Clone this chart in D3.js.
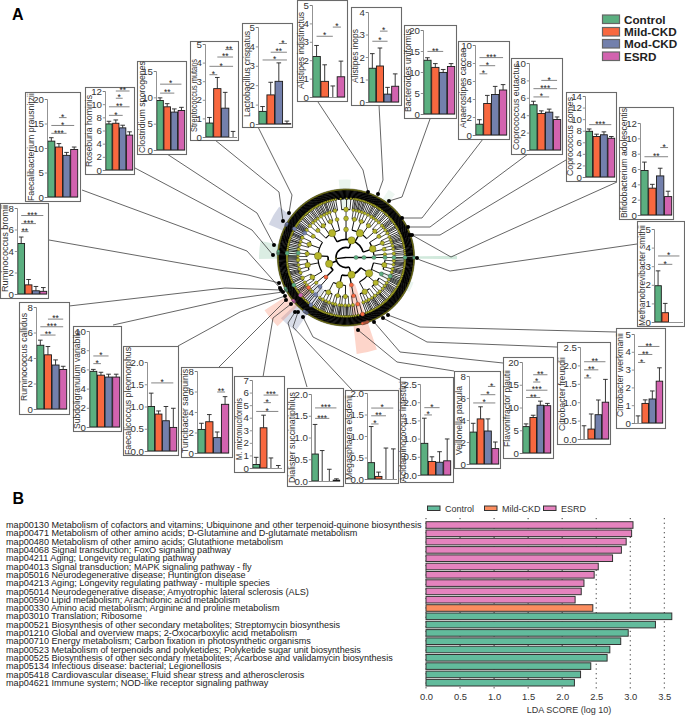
<!DOCTYPE html>
<html><head><meta charset="utf-8">
<script src="https://cdn.jsdelivr.net/npm/d3@7"></script>
<style>html,body{margin:0;padding:0;background:#fff}svg{display:block}text{font-family:"Liberation Sans",Arial,sans-serif}</style>
</head><body><div id="chart"></div>
<script>
/* ---------- DATA: panel A bar charts ---------- */
const groups = ["Control","Mild-CKD","Mod-CKD","ESRD"];
const taxa = ["Faecalibacterium prausnitzii","Roseburia hominis","Clostridium sporogenes","Streptococcus mutans","Lactobacillus crispatus","Alistipes indistinctus","Alistipes inops","Bacteroides uniformis","Anaerostipes caccae","Coprococcus eutactus","Coprococcus comes","Bifidobacterium adolescentis","Methanobrevibacter smithii","Citrobacter werkmanii","Citrobacter freundii","Flavonifractor plautii","Veillonella parvula","Acidaminococcus intestini","Megasphaera elsdenii","Dialister succinatiphilus","M. micronuciformis","Turicibacter sanguinis","Faecalicoccus pleomorphus","Subdoligranulum variabile","Ruminococcus callidus","Ruminococcus bromii"];
const means = [[11.4,10.2,8.5,9.7],[7,7.1,6.4,5.3],[9.4,8.2,7.2,7.5],[.75,2.6,1.55,0],[.65,1.5,2.2,.02],[2.2,.85,0,1.1],[1.5,1.6,.35,.7],[12.8,11.1,9.9,11.3],[1.2,3.5,4.5,5],[5.2,4.2,4.35,3.5],[7.9,7,7.3,6.7],[5.8,3.5,5.1,2.4],[1.95,.5,0,0],[0,1.1,1.35,2.35],[0,.27,.66,1],[5.8,7.8,10.5,10.4],[2.9,4.1,3,1.4],[.87,.37,.35,.39],[.38,.06,0,0],[.62,0,0,.02],[.28,3.2,0,0],[2.3,3.05,1.5,4.75],[1,.83,.68,.53],[5.8,5.4,5.2,5.2],[5,4.25,3.45,3.1],[4.7,.85,.3,.25]];
const upperErrors = [[12.1,10.9,9.1,10.2],[7.4,7.6,6.8,5.8],[9.9,8.8,7.8,8.1],[1.05,3.2,2.4,.3],[.9,2.15,3.15,.15],[2.8,1.75,.6,1.95],[2.15,2.4,.65,1.25],[13.4,12,10.6,12],[1.7,4.4,5.4,5.6],[5.6,4.5,4.7,3.8],[8.3,7.4,7.8,7],[6.9,4,6.1,3.1],[2.75,1,0,0],[.4,1.3,1.8,3.1],[.36,.68,1.06,1.62],[6.4,8.3,11.4,10.9],[3.7,5.2,4.1,2],[1.56,.5,.64,.99],[1.22,.16,.72,.7],[1.3,.7,.27,.05],[.85,4.2,.8,.2],[2.9,3.75,2.05,5.5],[1.3,.9,1,.96],[6,5.7,5.5,5.5],[5.4,4.9,3.85,3.35],[5.3,1.35,.7,.6]];
const tickValues = [[0,5,10,15,20],[0,2,4,6,8,10,12],[0,5,10,15],[0,1,2,3,4,5],[0,1,2,3,4,5],[0,1,2,3,4,5],[0,1,2,3,4],[0,5,10,15,20],[0,2,4,6,8,10],[0,2,4,6,8,10],[0,2,4,6,8,10,12,14],[0,2,4,6,8,10,12],[0,1,2,3,4,5],[0,1,2,3,4,5],[0,.5,1,1.5,2,2.5],[0,5,10,15,20],[0,2,4,6,8],[0,.5,1,1.5,2,2.5],[0,.5,1,1.5,2],[0,.5,1,1.5,2],[0,1,2,3,4,5,6,7],[0,2,4,6,8],[0,.5,1,1.5,2],[0,2,4,6,8,10],[0,2,4,6,8],[0,2,4,6,8]];
/* significance brackets: [from group, to group, value height, stars] */
const brackets = [
 [[0,2,13,"***"],[0,3,14.6,"*"],[1,2,16.2,"*"]],
 [[1,3,12,"**"],[1,2,10.9,"*"],[0,3,9.6,"**"],[0,2,8.3,"*"]],
 [[0,3,12.5,"*"],[0,2,10.8,"**"]],
 [[0,1,3.35,"*"],[0,3,3.8,"*"],[1,3,4.3,"**"],[2,3,4.7,"**"]],
 [[0,3,3.3,"*"],[1,3,3.7,"**"],[2,3,4.15,"*"]],
 [[0,2,3.3,"*"],[2,3,3.8,"*"]],
 [[0,2,2.7,"*"],[1,2,3.15,"*"]],
 [[0,2,14.9,"**"]],
 [[0,1,6.8,"*"],[0,2,7.7,"*"],[0,3,8.6,"***"]],
 [[0,2,6.1,"*"],[0,3,7.05,"***"],[1,3,8,"*"]],
 [[0,3,9.05,"***"]],
 [[0,3,7.6,"**"],[2,3,8.8,"*"]],
 [[0,2,3.1,"*"],[0,3,3.55,"*"]],
 [[0,1,3.4,"*"],[0,2,3.85,"**"],[0,3,4.3,"**"]],
 [[0,1,1.66,"*"],[0,2,1.88,"**"],[0,3,2.1,"**"]],
 [[0,2,12.2,"**"],[0,3,13.8,"***"],[1,2,15.6,"*"],[1,3,17.2,"**"]],
 [[0,3,5.55,"*"],[1,3,6.3,"*"],[2,3,7.05,"*"]],
 [[0,1,1.65,"*"],[0,2,1.85,"*"]],
 [[0,1,1.28,"*"],[0,2,1.47,"**"],[0,3,1.65,"*"]],
 [[0,2,1.44,"***"],[0,3,1.68,"***"]],
 [[0,3,4.5,"*"],[1,2,5.2,"*"],[1,3,5.8,"***"]],
 [[2,3,5.95,"**"]],
 [[0,3,1.53,"*"]],
 [[0,1,6.6,"*"],[0,2,7.4,"*"]],
 [[0,2,5.8,"**"],[0,3,6.45,"***"],[1,3,7.05,"**"]],
 [[0,1,5.8,"**"],[0,2,6.55,"***"],[0,3,7.3,"***"]]
];

/* ---------- DATA: panel A cladogram (kingdom > phylum > class > order > family > genus; a number = species count) ---------- */
const clade = (group, children, wedge) => ({group, children, wedge});
const archaea = clade("Control",[clade("Control",[clade("Control",[clade("Control",[clade("Control",[clade("Control",2)])])])])],"archaea");
const phylumA = [
 [ [[2,3,1,2],[1,2,2],[3,1,2,1],[2,3]], clade("Control",[clade("Control",[2,2,2,1]),[2,1,2]],"side"), [[3,2,1],[2,1,2,1],[3,2],[2,3,1,1],[1,2]], [[2,2,3,1],[1,2,1],[3,2,2],[1,3],[2,3]] ],
 clade("Mild-CKD",[clade("Mild-CKD",[clade("Mild-CKD",[clade("Mild-CKD",7),4]),[3,3]])],"veillon"),
 [ [[2,3,1],[2,2,2],[3,1]], [[1,2,2],[3,2,1],[2,2]], [[3,2,2],[1,2,1],[2,3,2],[2,2]] ]
];
const phylumB = [
 clade("Mild-CKD",[clade("Mod-CKD",[clade("Mod-CKD",[clade("Mod-CKD",5),3,2]),[3,3]],"lowblue"),[[2,1],clade("Mild-CKD",[clade("ESRD",3),2],"lowred")]]),
 [ [[2,1,2],[3,2],[clade("Control",4),2,1,3]], [[2,3,1,2],[1,2,3],[2,2,1],[3,2,2,1,2]], [[1,2],clade("Control",[clade("Control",4),2],"left"),[2,3,2]], [[2,3,1],[1,3,2],[2,1,2,3]], [clade("Mod-CKD",[clade("Mod-CKD",3),2,1],"upblue"),[2,1,2,2]] ]
];
const phylumC = [
 [ [[3,2,1,2],[2,3,1]], [[2,3],[1,2,2],[3,1,2]], [[2,2,1],[3,2],[1,2,3]], [[2,3,2,4]] ],
 clade(null,[ [[9,6,5]] ],"top"),
 [ [[2,2,1],[3,1],[2,2,2]], [[1,3],[2,3],[2,2,1]], clade(null,[[3,2,2],[1,2],[3,3]],"upright"), [[2,1,3],[3,2,1],[2,1]] ],
 [ [[2,3,2],[1,2,3]], [[3,2],[2,2,2],[1,2]], [[2,3,1],[2,1,3]], [[3,2,3]] ]
];
const bacteria = [phylumA, phylumB, phylumC];
const taxonomy = [archaea, bacteria];

/* ---------- DATA: panel B ---------- */
const pathways = ["map00130 Metabolism of cofactors and vitamins; Ubiquinone and other terpenoid-quinone biosynthesis","map00471 Metabolism of other amino acids; D-Glutamine and D-glutamate metabolism","map00480 Metabolism of other amino acids; Glutathione metabolism","map04068 Signal transduction; FoxO signaling pathway","map04211 Aging; Longevity regulating pathway","map04013 Signal transduction; MAPK signaling pathway - fly","map05016 Neurodegenerative disease; Huntington disease","map04213 Aging; Longevity regulating pathway - multiple species","map05014 Neurodegenerative disease; Amyotrophic lateral sclerosis (ALS)","map00590 Lipid metabolism; Arachidonic acid metabolism","map00330 Amino acid metabolism; Arginine and proline metabolism","map03010 Translation; Ribosome","map00521 Biosynthesis of other secondary metabolites; Streptomycin biosynthesis","map01210 Global and overview maps; 2-Oxocarboxylic acid metabolism","map00710 Energy metabolism; Carbon fixation in photosynthetic organisms","map00523 Metabolism of terpenoids and polyketides; Polyketide sugar unit biosynthesis","map00525 Biosynthesis of other secondary metabolites; Acarbose and validamycin biosynthesis","map05134 Infectious disease: bacterial; Legionellosis","map05418 Cardiovascular disease; Fluid shear stress and atherosclerosis","map04621 Immune system; NOD-like receptor signaling pathway"];
const ldaScores = [3.04,3.02,2.94,2.87,2.74,2.53,2.47,2.32,2.28,2.19,2.45,3.61,3.37,2.97,2.86,2.7,2.66,2.42,2.27,2.18];
const ldaGroups = ["ESRD","ESRD","ESRD","ESRD","ESRD","ESRD","ESRD","ESRD","ESRD","ESRD","Mild-CKD","Control","Control","Control","Control","Control","Control","Control","Control","Control"];
const ldaLegend = ["Control","Mild-CKD","ESRD"];
const ldaTicks = [0,.5,1,1.5,2,2.5,3,3.5];

/* ---------- LAYOUT & STYLE ---------- */
const W=685,H=716;
const colA={"Control":"#5BAF80","Mild-CKD":"#F8683F","Mod-CKD":"#7380AC","ESRD":"#D263AF"};
const colB={"Control":"#62BB9C","Mild-CKD":"#FB8D5F","ESRD":"#E583BE"};
/* box x0,x1,y0,y1 | axis x, bars end x, y(top tick), y(0) | name x, bottom, top */
const panelLayout=[
 [25,80,92,201, 47,78,99,197, 31,201,93],
 [85,134,87,174, 105,133,91,170, 89,167,95],
 [137,186,61,154, 156,185,71,150, 142,153,61],
 [190,238,41,140, 205,237,44,137, 194,132,59],
 [242,292,23,127, 258,291,27,124, 247,117,31],
 [297,347,0,101, 312,345,5,97, 301,89,12],
 [351,401,7,105, 368,399,12,102, 355,83,29],
 [404,456,25,118, 423,455,30,114, 408,112,29],
 [458,509,41,139, 475,507,45,135, 463,128,48],
 [511,562,58,154, 529,561,63,150, 516,150,63],
 [566,616,92,181, 585,615,96,177, 570,176,97],
 [619,673,107,219, 640,672,123,215, 624,218,108],
 [637,684,221,326, 654,683,229,322, 642,326,225],
 [616,665,328,428, 634,663,334,423, 620,417,333],
 [557,610,342,444, 580,609,347,439, 562,431,357],
 [503,553,357,458, 522,551,362,453, 507,447,370],
 [454,500,371,468, 469,499,376,464, 459,455,386],
 [400,453,377,482, 420,451,384,475, 403,482,381],
 [345,398,390,483, 367,397,393,479, 349,480,395],
 [287,343,388,486, 311,340,394,481, 292,483,392],
 [234,284,376,472, 252,282,380,468, 239,460,398],
 [181,232,367,457, 197,229,371,453, 185,453,369],
 [123,178,346,455, 147,177,362,451, 128,455,347],
 [73,121,326,431, 89,120,331,427, 77,429,330],
 [19,69,302,414, 36,67,307,409, 24,401,313],
 [0,48,203,298, 17,47,208,294, 4.5,292,205]
];
/* connector polylines, box -> ring */
const connectorLayout=[
 [[82,190],[247,251],[280,288]],
 [[135,168],[252,230],[273,255]],
 [[167,154],[257,213],[274,245]],
 [[215,140],[279,192],[283,221]],
 [[258,127],[292,195],[289,213]],
 [[318,102],[363,170],[368,192]],
 [[379,105],[383,180],[378,194]],
 [[430,119],[402,197],[389,201]],
 [[483,139],[422,218],[402,218]],
 [[528,154],[430,227],[408,227]],
 [[566,160],[440,235],[410,235]],
 [[617,182],[488,240],[451,257],[412,235]],
 [[637,244],[450,271],[420,260],[417,258]],
 [[616,332],[420,327],[388,315]],
 [[557,347],[427,342],[383,318]],
 [[503,363],[400,352],[374,322]],
 [[454,371],[397,362],[358,330]],
 [[400,380],[313,337],[303,317]],
 [[352,390],[293,327],[298,312]],
 [[307,387],[288,323],[295,312]],
 [[263,377],[273,318],[291,304]],
 [[219,367],[270,316],[286,300]],
 [[178,346],[240,312],[285,296]],
 [[113,325],[225,300],[283,292]],
 [[69,306],[225,288],[281,290]],
 [[49,240],[248,275],[279,283]]
];
const clCx=346,clCy=257.5;
const depthRadii=[0,10,18,28,39,48,59,68];
const wedgeStyle={
 archaea:{inner:10,outer:111,fill:"#5BAF80",op:.28,pad:.01},
 side:{inner:39,outer:72,fill:"#5BAF80",op:.12,pad:0},
 veillon:{inner:28,outer:97,fill:"#F8683F",op:.28,pad:0},
 lowblue:{inner:39,outer:89,fill:"#7380AC",op:.28,pad:.01},
 lowred:{inner:48,outer:97,fill:"#F8683F",op:.25,pad:.08},
 left:{inner:48,outer:87,fill:"#5BAF80",op:.22,pad:.07},
 upblue:{inner:48,outer:84,fill:"#7380AC",op:.32,pad:.09},
 top:{inner:48,outer:78,fill:"#5BAF80",op:.14,pad:-.05},
 upright:{inner:48,outer:80,fill:"#5BAF80",op:.1,pad:-.05}
};

const svg=d3.select("#chart").append("svg").attr("width",W).attr("height",H).attr("viewBox",`0 0 ${W} ${H}`);

/* ---------- cladogram ---------- */
const kids=d=>{
 if(typeof d==="number"){return d3.range(d).map(()=>({leaf:true}));}
 if(Array.isArray(d))return d;
 if(d.children!==undefined)return kids(d.children);
 return null;
};
const root=d3.hierarchy({children:taxonomy},d=>{ if(d.leaf)return null; return kids(d);});
const leafCount=root.leaves().length;
d3.cluster().size([2*Math.PI*(1-1/leafCount),1]).separation(()=>1)(root);
const rootRot=Math.PI/2-(root.children[0].leaves()[0].x+root.children[0].leaves().slice(-1)[0].x)/2;
root.each(n=>{n.a=n.x+rootRot;n.r=depthRadii[n.depth];});
root.each(n=>{n.group=n.data.group|| (n.data.leaf&&n.parent.data.group) || null;});
const polar=(a,r)=>[r*Math.sin(a),-r*Math.cos(a)];
const cl=svg.append("g").attr("transform",`translate(${clCx},${clCy})`);
/* clade shading */
const wedgeArc=d3.arc();
root.descendants().filter(n=>n.data.wedge).forEach(n=>{
 const s=wedgeStyle[n.data.wedge],lv=n.leaves();
 cl.append("path").attr("d",wedgeArc({innerRadius:s.inner,outerRadius:s.outer,startAngle:lv[0].a-s.pad,endAngle:lv[lv.length-1].a+s.pad})).attr("fill",s.fill).attr("opacity",s.op);
});
const linkW=d3.scaleOrdinal().domain([1,2,3,4,5,6,7]).range([1.3,1.5,1.3,.9,.7,.8,1.2]);
cl.append("g").selectAll("line").data(root.descendants().filter(n=>n.depth>0)).join("line")
 .attr("x1",n=>polar(n.a,n.parent.r)[0]).attr("y1",n=>polar(n.a,n.parent.r)[1])
 .attr("x2",n=>polar(n.a,n.r)[0]).attr("y2",n=>polar(n.a,n.r)[1])
 .attr("stroke","#000").attr("stroke-width",n=>linkW(n.depth));
cl.append("g").selectAll("path").data(root.descendants().filter(n=>n.children&&n.depth>0&&n.children.length>1)).join("path")
 .attr("d",n=>{const a0=n.children[0].a,a1=n.children[n.children.length-1].a;const p0=polar(a0,n.r),p1=polar(a1,n.r);
   return `M${p0[0]},${p0[1]}A${n.r},${n.r} 0 ${a1-a0>Math.PI?1:0} 1 ${p1[0]},${p1[1]}`;})
 .attr("fill","none").attr("stroke","#000").attr("stroke-width",n=>n.depth===6?2:n.depth===5?1:n.depth<=2?1.7:1.2);
const nodeR=d3.scaleSqrt().domain([1,60]).range([1.1,3.7]);
const nodes=root.descendants().filter(n=>n.depth>0).sort((a,b)=>(a.group?1:0)-(b.group?1:0));
cl.append("g").selectAll("circle").data(nodes).join("circle")
 .attr("cx",n=>polar(n.a,n.r)[0]).attr("cy",n=>polar(n.a,n.r)[1])
 .attr("r",n=>n.group?(n.depth===7?1.4:2.1):(n.depth===7?.7:n.depth===6?1.1:n.depth===1?.8:Math.min(3.7,nodeR(n.leaves().length))))
 .attr("fill",n=>n.group?colA[n.group]:"#B4B52A")
 .attr("stroke",n=>n.group?"#333":"#1c1c04").attr("stroke-width",n=>n.depth===7?.4:.3);

const lineGen=d3.line();
svg.append("g").selectAll("path").data(connectorLayout).join("path")
 .attr("d",lineGen).attr("fill","none").attr("stroke","#333").attr("stroke-width",.75);
svg.append("g").selectAll("circle").data(connectorLayout).join("circle")
 .attr("cx",c=>c[c.length-1][0]).attr("cy",c=>c[c.length-1][1]).attr("r",2).attr("fill","#000");

/* ---------- bar panels ---------- */
taxa.forEach((name,i)=>{
 const [bx0,bx1,by0,by1,ax,barEnd,yTop,y0,nx,nb,nt]=panelLayout[i];
 const g=svg.append("g");
 g.append("rect").attr("x",bx0+.5).attr("y",by0+.5).attr("width",bx1-bx0).attr("height",by1-by0).attr("fill","#fff").attr("stroke","#6a6a6a").attr("stroke-width",1.1);
 const ticks=tickValues[i];
 const y=d3.scaleLinear().domain([0,d3.max(ticks)]).range([y0,yTop]);
 const x=d3.scaleBand().domain(d3.range(4)).range([ax+.5,barEnd]).paddingInner(0);
 const mk=(i===17||i===18||i===19||i===14||i===22);
 g.selectAll(".bar").data(means[i]).join("rect")
  .attr("x",(d,k)=>x(k)+.3).attr("width",x.bandwidth()-.6)
  .attr("y",d=>y(d)).attr("height",d=>y(0)-y(d))
  .attr("fill",(d,k)=>colA[groups[k]]).attr("stroke","#1a1a1a").attr("stroke-width",d=>d>0?.9:0);
 upperErrors[i].forEach((u,k)=>{
  if(u<=0)return;
  const cx=x(k)+x.bandwidth()/2;
  g.append("path").attr("d",`M${cx},${y(means[i][k])}V${y(u)}M${cx-2.3},${y(u)}H${cx+2.3}`).attr("fill","none").attr("stroke","#222").attr("stroke-width",.9);
 });
 const ax1=d3.axisLeft(y).tickValues(ticks).tickSize(2.2).tickPadding(.8).tickFormat(mk?d3.format(".1f"):d3.format("d"));
 const ag=g.append("g").attr("transform",`translate(${ax},0)`).call(ax1);
 ag.selectAll("path,line").attr("stroke","#777").attr("stroke-width",.8);
 ag.selectAll("text").attr("fill","#333").attr("font-size",9.7).attr("font-family",'"Liberation Sans",Arial,sans-serif');
 g.append("line").attr("x1",ax).attr("x2",i===12?bx1-1:barEnd).attr("y1",y(0)+.5).attr("y2",y(0)+.5).attr("stroke","#777").attr("stroke-width",.8);
 brackets[i].forEach(([a,b,v,s])=>{
  const xa=x(a)+x.bandwidth()/2,xb=x(b)+x.bandwidth()/2;
  g.append("line").attr("x1",xa).attr("x2",xb).attr("y1",y(v)).attr("y2",y(v)).attr("stroke","#777").attr("stroke-width",.9);
  g.append("text").attr("x",(xa+xb)/2).attr("y",y(v)+2.2).attr("text-anchor","middle").attr("font-size",8.5).attr("fill","#222").text(s);
 });
 g.append("text").attr("transform",`translate(${nx+3},${nb}) rotate(-90)`).attr("font-size",9.3).attr("fill","#333")
  .attr("textLength",nb-nt).attr("lengthAdjust","spacingAndGlyphs").text(name);
});

/* top legend */
const legTopY=[15,27.5,39.5,52];
groups.forEach((g,i)=>{
 svg.append("rect").attr("x",602.5).attr("y",legTopY[i]).attr("width",17).attr("height",8.5).attr("fill",colA[g]).attr("stroke","#666").attr("stroke-width",1.2);
 svg.append("text").attr("x",624).attr("y",legTopY[i]+8.6).attr("font-size",11.7).attr("font-weight","bold").attr("fill","#222").text(g);
});
svg.append("text").attr("x",12).attr("y",20).attr("font-size",16).attr("font-weight","bold").text("A");
svg.append("text").attr("x",12.5).attr("y",504).attr("font-size",16).attr("font-weight","bold").text("B");

/* ---------- panel B ---------- */
const bx=d3.scaleLinear().domain([0,3.5]).range([426,664.3]);
const by=d3.scalePoint().domain(pathways).range([525,682.7]);
const bg=svg.append("g");
bg.selectAll(".grid").data(ldaTicks).join("line").attr("x1",bx).attr("x2",bx).attr("y1",518).attr("y2",690)
 .attr("stroke","#222").attr("stroke-width",.9).attr("stroke-dasharray","1.2 3.5");
bg.selectAll(".bar").data(pathways).join("rect")
 .attr("x",bx(0)).attr("y",p=>by(p)-3.3).attr("height",6.6)
 .attr("width",(p,i)=>bx(ldaScores[i])-bx(0))
 .attr("fill",(p,i)=>colB[ldaGroups[i]]).attr("stroke","#333").attr("stroke-width",1);
bg.selectAll(".lbl").data(pathways).join("text")
 .attr("x",6).attr("y",p=>by(p)+3.1).attr("font-size",9.1).attr("fill","#222").text(p=>p);
const bAxis=d3.axisBottom(bx).tickValues(ldaTicks).tickSize(0).tickPadding(0).tickFormat(d3.format(".1f"));
const bag=bg.append("g").attr("transform","translate(0,693.5)").call(bAxis);
bag.select(".domain").remove();
bag.selectAll("text").attr("font-size",9.4).attr("fill","#333").attr("font-family",'"Liberation Sans",Arial,sans-serif');
bg.append("text").attr("x",569).attr("y",713).attr("text-anchor","middle").attr("font-size",9).attr("fill","#333").text("LDA SCORE (log 10)");
const legX=[427.5,484.5,543.5];
ldaLegend.forEach((g,i)=>{
 bg.append("rect").attr("x",legX[i]).attr("y",506).attr("width",12.5).attr("height",4.5).attr("fill",colB[g]).attr("stroke","#333").attr("stroke-width",1);
 bg.append("text").attr("x",legX[i]+17.5).attr("y",511.5).attr("font-size",9).attr("fill","#333").text(g);
});
</script></body></html>
